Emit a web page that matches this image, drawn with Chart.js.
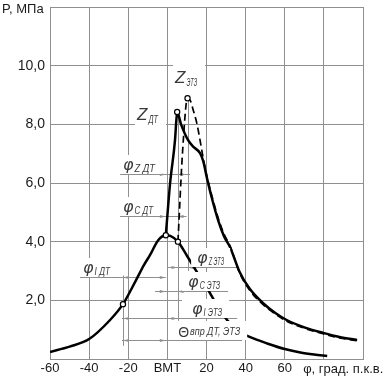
<!DOCTYPE html>
<html><head><meta charset="utf-8">
<script src="https://cdn.jsdelivr.net/npm/chart.js@4.4.0/dist/chart.umd.min.js"></script>
<style>html,body{margin:0;padding:0;background:#fff}#wrap{width:384px;height:378px;position:relative}</style>
</head><body><div id="wrap"><canvas id="c"></canvas></div>
<script>
// ---- data (crank angle, deg; pressure, MPa) ----
const motoringAngle = [-60,-50,-40,-29.3,-22.7,-16,-12,-8.9,-4.7,-0.8,1.5,5.4,10,14.5,20,25,30.5,37,44,51,60,68,75,81.7];
const motoringP     = [0.24,0.42,0.68,1.33,1.87,2.69,3.2,3.54,4.05,4.22,4.2,4.0,3.52,3.03,2.45,1.88,1.33,0.92,0.7,0.53,0.34,0.22,0.15,0.1];

const dtAngle = [-0.8,1.4,3.9,4.6,5.0,7.0,10.6,13.5,16.7,18.3,20.3,23,26,29,32,37,42,48.8,55,61,70,79.6,88,97];
const dtP     = [4.22,6.0,7.46,8.15,8.42,8.0,7.46,7.22,7.02,6.75,6.15,5.42,4.72,4.18,3.82,2.96,2.4,1.91,1.58,1.33,1.08,0.89,0.75,0.65];

const etzAngle = [5.4,7.8,10.3,11.8,13.2,15,16.7,18.3,20.3,23,26,29,32,37,42,48.8,55,61,70,79.6,88,97];
const etzP     = [4.0,7.1,8.89,8.8,8.49,8.05,7.46,6.85,6.2,5.5,4.8,4.25,3.86,2.92,2.35,1.86,1.54,1.29,1.05,0.86,0.72,0.62];

const markerAngle = [-22.7,-0.8,5.4,5.0,10.3];
const markerP     = [1.87,4.22,4.0,8.42,8.89];

const xTickValues = [-60,-40,-20,0,20,40,60];
const xTickText   = ['-60','-40','-20','ВМТ','20','40','60'];
const yTickValues = [2,4,6,8,10];
const yTickText   = ['2,0','4,0','6,0','8,0','10,0'];

const xTitle = 'φ, град. п.к.в.';
const yTitle = 'P, МПа';

// ---- annotations (in data units) ----
const rows = [
 {p:6.31, from:-24.2, to:11.6, a:-0.8, b:5.0, inside:false, main:'φ', sub:'Z ДТ',  a0:-22.7, a1:-6.3},
 {p:4.88, from:-24.2, to:5.5,  a:-0.8, b:5.2, inside:false, main:'φ', sub:'C ДТ',  a0:-22.7, a1:-7.3},
 {p:2.80, from:-44.7, to:-0.8, a:-22.7,b:-0.8,inside:true,  main:'φ', sub:'I ДТ',  a0:-43.1, a1:-29.3},
 {p:3.14, from:0.4,   to:35.7, a:5.2,  b:10.3, inside:false, main:'φ', sub:'Z ЭТЗ', a0:15.2, a1:28.5, padL:6},
 {p:2.32, from:-6.3,  to:31.0, a:-0.8, b:5.2, inside:false, main:'φ', sub:'C ЭТЗ', a0:10.6, a1:27.0, padL:6},
 {p:1.40, from:-23.2, to:35.7, a:-22.7,b:5.2, inside:true,  main:'φ', sub:'I ЭТЗ', a0:12.6, a1:28.0, padL:10},
 {p:0.65, from:-23.2, to:38.2, a:-22.7,b:-0.8,inside:true,  main:'Θ', sub:'впр ДТ, ЭТЗ', a0:5.5, a1:37.2, padL:1, theta:true}
];
const extLines = [
 {a:-22.7, p0:2.85, p1:0.45},
 {a:5.2,   p0:8.42, p1:1.3},
 {a:10.3,  p0:8.89, p1:3.0}
];
const peakLabels = [
 {main:'Z', sub:'ДТ',  a0:-15.5, a1:-4.8, p:8.15},
 {main:'Z', sub:'ЭТЗ', a0:3.9,   a1:15.2, p:9.41}
];

const pts = (xs, ys) => xs.map((v,i)=>({x:v, y:ys[i]}));
const LINE = '#8f8f8f';
const TXT = '#3a3a3a';

function drawLabel(ctx, xs, x0, x1, baseMain, baseSub, main, sub, mainFont) {
  ctx.font = mainFont;
  const mw = ctx.measureText(main).width;
  ctx.fillStyle = TXT;
  ctx.fillText(main, x0, baseMain);
  ctx.font = "italic 11px 'Liberation Sans'";
  const sw = ctx.measureText(sub).width;
  const sx = x0 + mw + 1;
  const sc = Math.max(0.5, (x1 - sx) / sw);
  ctx.save();
  ctx.translate(sx, baseSub);
  ctx.scale(sc, 1);
  ctx.fillText(sub, 0, 0);
  ctx.restore();
}

const annot = {
  id: 'annot',
  beforeDatasetsDraw(chart) {
    const {ctx, scales:{x, y}} = chart;
    ctx.save();
    ctx.strokeStyle = LINE; ctx.fillStyle = LINE; ctx.lineWidth = 1;
    for (const e of extLines) {
      const px = Math.round(x.getPixelForValue(e.a)) + 0.5;
      ctx.beginPath(); ctx.moveTo(px, y.getPixelForValue(e.p0)); ctx.lineTo(px, y.getPixelForValue(e.p1)); ctx.stroke();
    }
    for (const r of rows) {
      const py = Math.round(y.getPixelForValue(r.p)) + 0.5;
      ctx.beginPath(); ctx.moveTo(x.getPixelForValue(r.from), py); ctx.lineTo(x.getPixelForValue(r.to), py); ctx.stroke();
      const xa = x.getPixelForValue(r.a), xb = x.getPixelForValue(r.b);
      const arrow = (tip, dir) => {
        ctx.beginPath(); ctx.moveTo(tip, py); ctx.lineTo(tip - dir*6, py - 1.6); ctx.lineTo(tip - dir*6, py + 1.6); ctx.closePath(); ctx.fill();
      };
      if (r.inside) { arrow(xa, -1); arrow(xb, 1); }
      else { arrow(xa, 1); arrow(xb, -1);
        ctx.beginPath(); ctx.moveTo(xa-9, py); ctx.lineTo(xb+9, py); ctx.stroke(); }
    }
    ctx.restore();
  },
  afterDatasetsDraw(chart) {
    const {ctx, scales:{x, y}} = chart;
    ctx.save();
    ctx.textBaseline = 'alphabetic'; ctx.textAlign = 'left';
    for (const r of rows) {
      const py = Math.round(y.getPixelForValue(r.p));
      const x0 = x.getPixelForValue(r.a0), x1 = x.getPixelForValue(r.a1);
      const padL = r.padL ?? 4, padR = 7;
      ctx.fillStyle = '#fff';
      ctx.fillRect(x0 - padL, py - 19, (x1 - x0) + padL + padR, 19);
      if (r.theta) drawLabel(ctx, x, x0, x1, py - 3, py - 5, r.main, r.sub, "14px 'Liberation Sans'");
      else drawLabel(ctx, x, x0, x1, py - 4, py - 2, r.main, r.sub, "italic 16px 'DejaVu Sans'");
    }
    for (const l of peakLabels) {
      const x0 = x.getPixelForValue(l.a0), x1 = x.getPixelForValue(l.a1);
      const by = y.getPixelForValue(l.p);
      ctx.fillStyle = '#fff';
      ctx.fillRect(x0 - 2, by - 21, (x1 - x0) + 10, 28);
      drawLabel(ctx, x, x0, x1, by, by + 3, l.main, l.sub, "italic 17px 'Liberation Sans'");
    }
    ctx.fillStyle = '#1a1a1a';
    ctx.font = "13px 'Liberation Sans'";
    ctx.textBaseline = 'middle';
    ctx.fillText(yTitle, 2, y.getPixelForValue(12) + 2);
    ctx.fillText(xTitle, x.getPixelForValue(69.4), y.getPixelForValue(0) + 10);
    ctx.restore();
  }
};

new Chart(document.getElementById('c'), {
  type: 'line',
  data: {
    datasets: [
      {label:'markers', data: pts(markerAngle, markerP), showLine:false, pointRadius:2.6, pointBackgroundColor:'#fff', pointBorderColor:'#000', pointBorderWidth:1.2, order:0},
      {label:'motoring', data: pts(motoringAngle, motoringP), borderColor:'#000', borderWidth:2.5, pointRadius:0, cubicInterpolationMode:'monotone', order:3},
      {label:'ДТ', data: pts(dtAngle, dtP), borderColor:'#000', borderWidth:2.5, pointRadius:0, cubicInterpolationMode:'monotone', order:2},
      {label:'ЭТЗ', data: pts(etzAngle, etzP), borderColor:'#000', borderWidth:1.7, borderDash:[7,4], pointRadius:0, cubicInterpolationMode:'monotone', order:1}
    ]
  },
  options: {
    responsive: true, maintainAspectRatio: false, animation: false, devicePixelRatio: 1,
    layout: {padding: {top: 7, right: 21, left: 0, bottom: 0}},
    plugins: {legend: {display:false}, tooltip: {enabled:false}},
    scales: {
      x: {
        type: 'linear', min: -60, max: 100,
        afterFit: s => { s.height = 19; s.paddingLeft = 0; s.paddingRight = 0; },
        grid: {color: LINE, drawTicks: false},
        border: {color: LINE},
        ticks: {stepSize: 20, padding: 2, color: '#1a1a1a', font: {family: "'Liberation Sans'", size: 13},
          maxRotation: 0, autoSkip: false,
          callback: v => { const i = xTickValues.indexOf(v); return i >= 0 ? xTickText[i] : ''; }}
      },
      y: {
        type: 'linear', min: 0, max: 12,
        afterFit: s => { s.width = 50; s.paddingTop = 0; s.paddingBottom = 0; },
        grid: {color: LINE, drawTicks: false},
        border: {color: LINE},
        ticks: {stepSize: 2, padding: 5, color: '#1a1a1a', font: {family: "'Liberation Sans'", size: 14},
          callback: v => { const i = yTickValues.indexOf(v); return i >= 0 ? yTickText[i] : ''; }}
      }
    }
  },
  plugins: [annot]
});
</script></body></html>
